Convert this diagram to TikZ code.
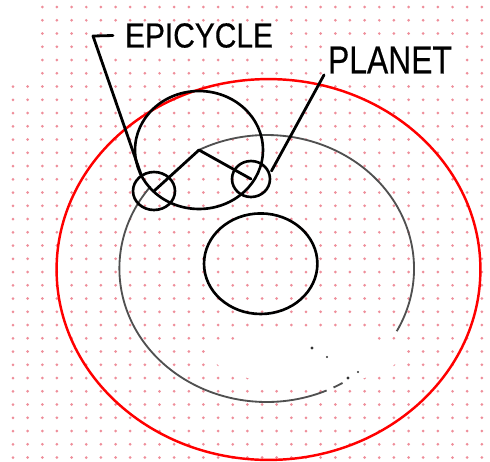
\documentclass[tikz,border=0pt]{standalone}
\usepackage{fontspec}
\setmainfont{Liberation Sans}
\newfontfamily\lblfont[FakeBold=0.5]{Liberation Sans}
\usepackage{tikz}
\usetikzlibrary{shapes.geometric, calc}
\definecolor{GridPink}{HTML}{EE8E9A}
\definecolor{OrbitRed}{HTML}{FF0000}
\definecolor{DeferentGray}{HTML}{505050}

\begin{document}
\begin{tikzpicture}[
  x=0.02cm, y=-0.02cm,
  every node/.style = {inner sep=0pt, outer sep=0pt},
  gdot/.style   = {fill=GridPink, draw=none},
  orb/.style 2 args = {
    ellipse, draw, line width=1.5pt,
    minimum width=#1*0.04cm, minimum height=#2*0.04cm
  },
  defer/.style  = {draw=DeferentGray, line width=1.05pt},
  arm/.style    = {line width=1.6pt, line cap=round, line join=round},
  lead/.style   = {line width=1.6pt, line cap=round, line join=round},
  lbl/.style    = {fill=white, inner xsep=#1, inner ysep=0.03cm},
  speck/.style  = {fill=black!80, draw=none},
]
\useasboundingbox (0,0) rectangle (490,461);

% Dot grid
\foreach \i in {2,...,32}
  \foreach \j in {0,...,34}
    \fill[gdot] ({13+14.65*\i},{7+13.25*\j}) circle (0.85pt);
\foreach \i in {0,1}
  \foreach \j in {6,...,34}
    \fill[gdot] ({13+14.65*\i},{7+13.25*\j}) circle (0.85pt);
\fill[white] (306,357) ellipse [x radius=92, y radius=27];

% Outer orbit
\node[orb={212}{190.5}, draw=OrbitRed, line width=1.4pt] (orbit) at (268.5,269.5) {};

% Deferent (broken)
\draw[defer] (266.7,268.5) ++(28:147.3 and 133.5)
  arc[start angle=28, end angle=-117, x radius=147.3, y radius=133.5];
\draw[defer] (266.7,268.5) ++(-142:147.3 and 133.5)
  arc[start angle=-142, end angle=-294, x radius=147.3, y radius=133.5];
\draw[defer] (266.7,268.5) ++(63:147.3 and 133.5)
  arc[start angle=63, end angle=59, x radius=147.3, y radius=133.5];
\fill[speck] (312,348) circle (0.9pt);
\fill[speck] (327,357) circle (0.7pt);
\fill[speck] (348,378) circle (0.9pt);
\fill[speck] (358,372) circle (0.6pt);

% Earth, epicycle, planets
\node[orb={56.7}{50.3}] (earth) at (260.7,263.7) {};
\node[orb={64}{59}] (epi) at (199,150) {};
\node[orb={21}{19}] (pl1) at (154,191) {};
\node[orb={19}{18}] (pl2) at (251,179) {};

\draw[arm] (pl1.center) -- (epi.center) -- (pl2.center);

% Labels
\node[lbl=0.24cm] (epilbl) at (199,35.5)
  {\scalebox{0.86}[1]{\lblfont\fontsize{19.8}{22}\selectfont EPICYCLE}};
\node[lbl=0.08cm] (plalbl) at (390,60)
  {\scalebox{0.817}[1]{\lblfont\fontsize{22.2}{25}\selectfont PLANET}};

\coordinate (eptick) at (93,36);
\draw[lead] (epilbl.west) -- (eptick) -- (epi.204);
\draw[lead] (plalbl.south west) -- ($(pl2.22)+(3,-1)$);

\end{tikzpicture}
\end{document}
